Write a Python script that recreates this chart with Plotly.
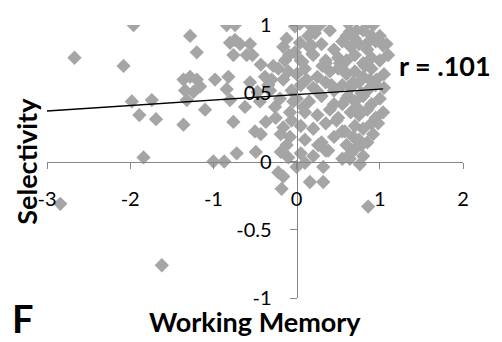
import plotly.graph_objects as go

# Working memory (x) vs selectivity (y)
wm = [
    -2.84, -2.67, -2.08, -1.96, -1.98, -1.74, -1.89, -1.69, -1.84, -1.62,
    -1.36, -1.32, -1.28, -1.20, -1.36, -1.28, -1.20, -1.34, -1.24, -1.16,
    -1.10, -0.98, -0.82, -0.84, -0.80, -0.76, -1.00, -0.87, -0.72, -0.84,
    -0.74, -0.80, -0.74, -0.68, -0.76, -0.60,
    -0.56, -0.53, -0.43, -0.22, -0.09, -0.16, -0.38, -0.56, -0.47, -0.32,
    -0.16, -0.06, -0.44, -0.26, -0.08, -0.37, -0.16, -0.50, -0.08, -0.43,
    -0.19, -0.49, -0.19, -0.10, -0.22, -0.18, -0.16, -0.62, -0.10, -0.04,
    -0.30, -0.25, -0.12,
    -0.02, 0.04, 0.16, 0.28, 0.62, 0.84, 0.92, 0.40, 1.00, 1.04,
    0.90, 0.04, 0.18, 0.07, 0.19, 0.31, 0.64, 0.70, 0.80, 0.87,
    0.15, 0.30, 0.45, 0.55, 0.65, 0.75, 0.85, 0.95,
    0.05, 0.20, 0.35, 0.50, 0.60, 0.70, 0.80, 0.90, 1.00,
    0.00, 0.10, 0.25, 0.40, 0.50, 0.60, 0.70, 0.80, 0.90, 1.05,
    0.05, 0.20, 0.35, 0.45, 0.55, 0.65, 0.75, 0.85, 0.95, 1.05,
    0.00, 0.15, 0.30, 0.45, 0.60, 0.70, 0.80, 0.90, 1.00,
    0.10, 0.25, 0.40, 0.50, 0.65, 0.75, 0.85, 0.95, 1.04,
    0.05, 0.20, 0.35, 0.55, 0.70, 0.80, 0.90,
    0.10, 0.30, 0.45, 0.60, 0.75, 0.85,
    0.05, 0.20, 0.35, 0.55, 0.65, 0.80, 0.70,
    0.00, 0.10, 0.16, 0.32, 0.32, 0.64, 0.76, 0.86,
    0.58, 0.68, 0.78, 0.52, 0.62, 0.72, 0.88, 0.48, 0.58, 0.68,
    0.78, 0.38, 0.42, 0.60, 0.72, 0.82, 0.35, 0.55, 0.92, 0.98,
    -0.28, -0.14, -0.02, 0.12, 0.24, -0.20, 0.08, 0.22, -0.06, 0.14,
    1.08, 1.10, 0.96, -0.34, -0.12, 0.26,
]
sel = [
    -0.31, 0.76, 0.70, 1.00, 0.44, 0.45, 0.34, 0.31, 0.03, -0.76,
    0.27, 0.45, 0.92, 0.80, 0.60, 0.62, 0.60, 0.52, 0.51, 0.55,
    0.38, 0.60, 0.62, 0.53, 0.45, 0.29, 0.00, 0.00, 0.06, 1.00,
    1.00, 0.87, 0.89, 0.86, 0.78, 0.78,
    0.86, 0.78, 0.71, 0.68, 0.78, 0.84, 0.62, 0.58, 0.51, 0.52,
    0.60, 0.52, 0.44, 0.40, 0.36, 0.29, 0.25, 0.22, 0.18, 0.20,
    0.20, 0.07, 0.07, 0.03, -0.08, -0.20, -0.11, 0.40, 0.66, 0.44,
    0.60, 0.32, 0.12,
    0.99, 1.01, 1.00, 1.00, 1.01, 1.01, 1.00, 0.96, 0.92, 0.85,
    0.92, 0.87, 0.85, 0.73, 0.79, 0.70, 0.95, 0.90, 0.96, 0.88,
    0.84, 0.86, 0.82, 0.88, 0.84, 0.86, 0.82, 0.88,
    0.74, 0.78, 0.72, 0.76, 0.74, 0.78, 0.72, 0.76, 0.74,
    0.64, 0.68, 0.62, 0.66, 0.68, 0.64, 0.66, 0.62, 0.68, 0.64,
    0.56, 0.54, 0.58, 0.52, 0.56, 0.54, 0.58, 0.52, 0.56, 0.54,
    0.46, 0.44, 0.48, 0.42, 0.46, 0.44, 0.48, 0.42, 0.46,
    0.36, 0.34, 0.38, 0.32, 0.36, 0.34, 0.38, 0.32, 0.36,
    0.26, 0.24, 0.28, 0.22, 0.26, 0.24, 0.28,
    0.16, 0.14, 0.18, 0.12, 0.16, 0.14,
    0.06, 0.04, 0.08, 0.02, 0.06, 0.04, 0.09,
    -0.04, -0.01, -0.15, -0.04, -0.15, 0.02, -0.02, -0.33,
    0.66, 0.58, 0.50, 0.72, 0.48, 0.40, 0.60, 0.30, 0.22, 0.18,
    0.12, 0.08, 0.56, 0.92, 0.96, 0.70, 0.74, 0.42, 0.20, 0.28,
    0.70, 0.74, 0.80, 0.60, 0.52, 0.46, 0.40, 0.94, 0.30, 0.92,
    0.86, 0.78, 0.60, 0.56, 0.90, 0.12,
]

# Trend line
trend_x = [-3.0, 1.04]
trend_intercept = 0.49
trend_slope = 0.040
r_label = "r = .101"

x_ticks = [-3, -2, -1, 0, 1, 2]
y_ticks = [-1, -0.5, 0, 0.5, 1]
y_tick_text = ["-1", "-0.5", "0", "0.5", "1"]

AXIS_GRAY = "#868686"
POINT_GRAY = "#A5A5A5"
FONT = "Lato, Open Sans, sans-serif"

fig = go.Figure()
fig.add_trace(go.Scatter(
    x=wm, y=sel, mode="markers",
    marker=dict(symbol="diamond", size=11, color=POINT_GRAY, line=dict(width=0)),
    hoverinfo="skip", showlegend=False,
))
fig.add_trace(go.Scatter(
    x=trend_x, y=[trend_intercept + trend_slope * v for v in trend_x],
    mode="lines", line=dict(color="black", width=1.3),
    hoverinfo="skip", showlegend=False,
))

x_lo, x_hi = -3, 2
y_lo, y_hi = -1, 1

fig.update_layout(
    width=502, height=342,
    margin=dict(l=47, r=39, t=22, b=44, pad=0),
    paper_bgcolor="white", plot_bgcolor="white",
    font=dict(family=FONT, size=20, color="black"),
    xaxis=dict(
        range=[x_lo, x_hi], tickvals=x_ticks, ticktext=[str(t) for t in x_ticks],
        showgrid=False, zeroline=False,
        showline=True, linecolor=AXIS_GRAY, linewidth=1,
        ticks="outside", ticklen=6, tickcolor=AXIS_GRAY, tickwidth=1,
        anchor="free", position=(0 - y_lo) / (y_hi - y_lo),
        ticklabelstandoff=13,
        tickfont=dict(size=20, color="black"),
    ),
    yaxis=dict(
        range=[y_lo, y_hi], tickvals=y_ticks, ticktext=y_tick_text,
        showgrid=False, zeroline=False,
        showline=True, linecolor=AXIS_GRAY, linewidth=1,
        ticks="outside", ticklen=7, tickcolor=AXIS_GRAY, tickwidth=1,
        anchor="free", position=(0 - x_lo) / (x_hi - x_lo),
        ticklabelstandoff=14,
        tickfont=dict(size=20, color="black"),
    ),
    annotations=[
        dict(text="<b>" + r_label + "</b>", xref="paper", yref="paper",
             x=0.842, y=0.851, xanchor="left", yanchor="middle",
             showarrow=False, font=dict(size=27, family=FONT)),
        dict(text="<b>Working Memory</b>", xref="paper", yref="paper",
             x=0.5, y=-0.085, xanchor="center", yanchor="middle",
             showarrow=False, font=dict(size=27, family=FONT)),
        dict(text="<b>Selectivity</b>", xref="paper", yref="paper",
             x=-0.05, y=0.5, xanchor="center", yanchor="middle", textangle=-90,
             showarrow=False, font=dict(size=27, family=FONT)),
        dict(text="<b>F</b>", xref="paper", yref="paper",
             x=-0.058, y=-0.074, xanchor="center", yanchor="middle",
             showarrow=False, font=dict(size=38, family=FONT)),
    ],
)

fig.write_html("out.html")
